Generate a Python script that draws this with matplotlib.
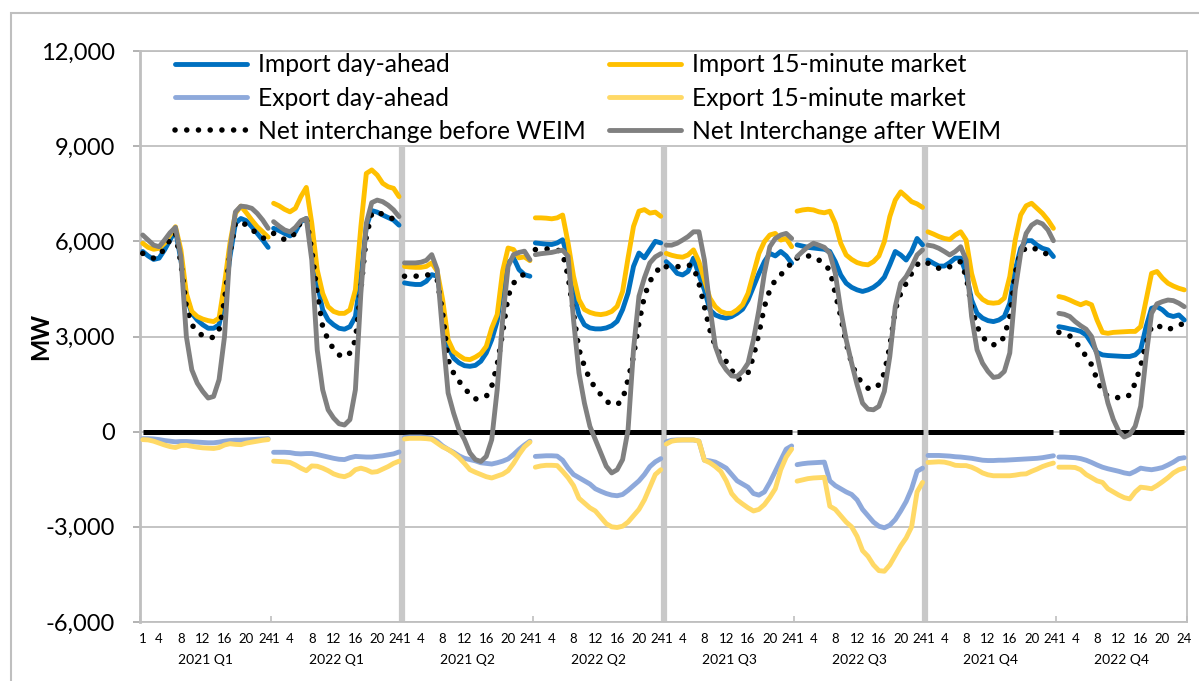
import numpy as np
import matplotlib
matplotlib.use("Agg")
import matplotlib.pyplot as plt
import matplotlib.transforms as mtransforms
from matplotlib.patches import Rectangle
from matplotlib.ticker import FuncFormatter

plt.rcParams["font.family"] = ["Lato", "DejaVu Sans"]

quarters = ["2021 Q1", "2022 Q1", "2021 Q2", "2022 Q2",
            "2021 Q3", "2022 Q3", "2021 Q4", "2022 Q4"]
hour_labels = [1, 4, 8, 12, 16, 20, 24]

# hourly MW, one row of 24 values per quarter
import_da = [
    [5680, 5540, 5430, 5470, 5730, 6040, 6360, 5410, 4260, 3730, 3520, 3370, 3260, 3260, 3370, 4150, 5520, 6570, 6720, 6650, 6460, 6250, 6040, 5810],
    [6410, 6340, 6250, 6170, 6300, 6620, 6720, 6040, 4680, 3840, 3520, 3370, 3260, 3230, 3310, 3630, 4890, 6460, 6970, 6920, 6830, 6750, 6670, 6510],
    [4690, 4660, 4640, 4640, 4740, 4950, 4900, 3950, 2690, 2320, 2170, 2080, 2060, 2090, 2220, 2480, 2900, 3480, 4690, 5320, 5480, 5110, 4950, 4900],
    [5950, 5930, 5910, 5900, 5950, 6050, 5480, 4370, 3690, 3370, 3270, 3240, 3240, 3270, 3340, 3480, 3850, 4370, 5210, 5630, 5480, 5740, 6000, 5950],
    [5360, 5200, 4990, 4940, 5050, 5470, 4940, 4470, 3840, 3680, 3610, 3580, 3630, 3730, 3860, 4150, 4570, 4990, 5360, 5620, 5540, 5680, 5540, 5310],
    [5890, 5850, 5810, 5790, 5770, 5750, 5680, 5360, 4940, 4680, 4550, 4470, 4420, 4470, 4550, 4680, 4870, 5260, 5680, 5570, 5410, 5680, 6090, 5890],
    [5410, 5310, 5220, 5220, 5330, 5470, 5470, 4990, 4150, 3730, 3580, 3500, 3470, 3520, 3630, 4050, 5100, 5780, 6020, 6020, 5880, 5780, 5730, 5520],
    [3310, 3280, 3240, 3210, 3160, 3050, 2790, 2500, 2420, 2400, 2390, 2380, 2370, 2370, 2420, 2580, 3310, 3890, 3940, 3840, 3680, 3630, 3680, 3520],
]
import_15m = [
    [5940, 5810, 5750, 5780, 5940, 6200, 6460, 5730, 4360, 3790, 3630, 3550, 3500, 3470, 3580, 4680, 5940, 6880, 7110, 6900, 6670, 6460, 6300, 6130],
    [7200, 7120, 7010, 6930, 7040, 7410, 7700, 6570, 5100, 4360, 3940, 3790, 3730, 3730, 3840, 4470, 6460, 8140, 8250, 8090, 7830, 7720, 7670, 7410],
    [5210, 5190, 5180, 5180, 5210, 5320, 5060, 4160, 2900, 2530, 2400, 2290, 2270, 2350, 2460, 2690, 3270, 3690, 5060, 5790, 5740, 5480, 5510, 5390],
    [6740, 6740, 6730, 6710, 6740, 6830, 5950, 4900, 4160, 3850, 3760, 3710, 3690, 3720, 3790, 3950, 4420, 5480, 6470, 6950, 7000, 6890, 6920, 6790],
    [5620, 5560, 5520, 5500, 5570, 5730, 5360, 4780, 4210, 3940, 3790, 3730, 3730, 3840, 4000, 4360, 4990, 5620, 5990, 6200, 6250, 6040, 6090, 5830],
    [6950, 6990, 7010, 6990, 6930, 6900, 6950, 6570, 5940, 5570, 5430, 5330, 5280, 5260, 5360, 5540, 5990, 6780, 7300, 7560, 7410, 7250, 7180, 7070],
    [6300, 6230, 6150, 6090, 6060, 6200, 6300, 6040, 4990, 4360, 4170, 4070, 4050, 4070, 4210, 4890, 6040, 6830, 7120, 7200, 7040, 6880, 6670, 6410],
    [4260, 4220, 4150, 4070, 4000, 4070, 4000, 3520, 3130, 3100, 3130, 3140, 3150, 3160, 3160, 3310, 4150, 4990, 5050, 4840, 4680, 4590, 4520, 4470],
]
export_da = [
    [-220, -220, -230, -250, -280, -300, -320, -310, -310, -320, -330, -340, -350, -350, -330, -300, -280, -270, -270, -260, -250, -240, -230, -220],
    [-650, -650, -650, -660, -690, -700, -690, -690, -720, -760, -800, -840, -870, -880, -820, -780, -790, -800, -800, -780, -760, -730, -700, -640],
    [-180, -170, -170, -170, -180, -200, -300, -450, -560, -650, -760, -840, -880, -920, -980, -1000, -1020, -980, -930, -860, -720, -560, -420, -300],
    [-780, -770, -760, -760, -770, -900, -1150, -1350, -1450, -1550, -1650, -1800, -1880, -1950, -2000, -2020, -1980, -1850, -1700, -1550, -1350, -1100, -950, -850],
    [-320, -270, -260, -260, -260, -260, -300, -900, -920, -960, -1050, -1150, -1350, -1550, -1650, -1750, -1950, -2000, -1900, -1600, -1250, -900, -550, -450],
    [-1040, -1010, -990, -980, -970, -960, -1550, -1700, -1800, -1900, -1980, -2150, -2450, -2650, -2850, -2980, -3030, -2950, -2770, -2500, -2200, -1800, -1250, -1150],
    [-750, -750, -750, -760, -770, -790, -800, -820, -840, -870, -900, -910, -910, -900, -900, -890, -880, -870, -860, -850, -840, -820, -790, -760],
    [-800, -800, -810, -820, -850, -900, -970, -1050, -1120, -1170, -1210, -1250, -1300, -1330, -1250, -1150, -1180, -1200, -1170, -1130, -1050, -960, -850, -820],
]
export_15m = [
    [-250, -260, -300, -360, -420, -470, -500, -440, -430, -460, -490, -510, -520, -530, -500, -420, -380, -400, -410, -360, -330, -300, -270, -250],
    [-930, -940, -950, -970, -1050, -1150, -1230, -1080, -1090, -1150, -1230, -1330, -1390, -1420, -1350, -1200, -1150, -1200, -1280, -1260, -1180, -1100, -1000, -930],
    [-230, -210, -210, -210, -220, -240, -360, -480, -560, -680, -820, -1000, -1200, -1280, -1350, -1420, -1460, -1400, -1340, -1230, -1000, -720, -480, -330],
    [-1120, -1080, -1060, -1060, -1070, -1250, -1450, -1700, -2100, -2250, -2400, -2500, -2700, -2900, -3000, -3020, -2980, -2850, -2650, -2450, -2150, -1750, -1350, -1200],
    [-390, -300, -270, -260, -260, -260, -300, -900, -980, -1100, -1250, -1550, -1950, -2150, -2280, -2400, -2500, -2450, -2300, -2070, -1800, -1200, -800, -550],
    [-1560, -1520, -1480, -1460, -1450, -1440, -2350, -2450, -2650, -2850, -3000, -3300, -3750, -3930, -4200, -4380, -4400, -4200, -3900, -3600, -3350, -3000, -1900, -1600],
    [-970, -960, -950, -960, -1000, -1060, -1070, -1070, -1120, -1200, -1300, -1360, -1390, -1390, -1390, -1390, -1370, -1340, -1330, -1250, -1180, -1100, -1040, -990],
    [-1120, -1120, -1120, -1130, -1200, -1350, -1450, -1550, -1600, -1800, -1900, -2000, -2080, -2120, -1900, -1750, -1770, -1800, -1700, -1580, -1450, -1300, -1200, -1150],
]
net_before = [
    [5620, 5520, 5470, 5540, 5780, 6040, 6250, 5310, 3940, 3370, 3160, 3020, 2970, 2970, 3210, 4150, 5620, 6570, 6620, 6510, 6380, 6230, 6130, 5940],
    [6250, 6130, 6060, 6090, 6270, 6620, 6720, 5730, 4360, 3310, 2890, 2600, 2420, 2350, 2480, 2890, 4470, 6150, 6880, 6930, 6850, 6780, 6700, 6620],
    [4900, 4880, 4900, 4920, 4950, 4920, 4790, 3740, 2270, 1850, 1590, 1380, 1170, 1030, 1060, 1110, 1430, 2110, 3110, 4270, 4690, 4790, 5000, 4810],
    [5740, 5740, 5760, 5760, 5740, 5630, 4900, 3740, 2590, 2060, 1640, 1380, 1170, 960, 860, 850, 1010, 1640, 2380, 3430, 4270, 4740, 5000, 5210],
    [5200, 5200, 5200, 5220, 5260, 5200, 4680, 3940, 3210, 2690, 2420, 2210, 1950, 1640, 1690, 1850, 2370, 3100, 3940, 4470, 4780, 4940, 5150, 5310],
    [5470, 5520, 5540, 5520, 5410, 5260, 5100, 4360, 3630, 2790, 2160, 1740, 1530, 1370, 1340, 1480, 1850, 2690, 3840, 4360, 4680, 4990, 5260, 5410],
    [5310, 5220, 5150, 5120, 5200, 5310, 5360, 4890, 3940, 3310, 3000, 2790, 2740, 2760, 3000, 3630, 4990, 5680, 5780, 5830, 5730, 5680, 5570, 5410],
    [3130, 3080, 3020, 2840, 2630, 2370, 2110, 1640, 1270, 1110, 1090, 1070, 1060, 1160, 1530, 2060, 2790, 3310, 3370, 3260, 3210, 3290, 3370, 3400],
]
net_after = [
    [6200, 6040, 5880, 5830, 6040, 6270, 6440, 5520, 3000, 1950, 1530, 1270, 1060, 1110, 1640, 3000, 5730, 6930, 7110, 7090, 7040, 6880, 6670, 6410],
    [6620, 6480, 6360, 6300, 6440, 6650, 6720, 5410, 2580, 1320, 690, 430, 250, 210, 380, 1320, 4360, 6570, 7220, 7300, 7250, 7140, 6990, 6780],
    [5320, 5320, 5320, 5340, 5400, 5580, 5110, 3110, 1220, 590, 60, -250, -670, -880, -940, -780, -250, 1320, 3530, 5210, 5580, 5650, 5690, 5420],
    [5580, 5610, 5630, 5650, 5690, 5720, 5530, 3530, 1850, 900, 170, -250, -670, -1090, -1300, -1200, -880, 60, 2590, 4270, 4850, 5320, 5510, 5610],
    [5880, 5880, 5940, 6040, 6150, 6300, 6300, 5410, 3940, 2690, 2210, 1950, 1760, 1740, 1900, 2160, 2900, 3840, 4990, 5830, 6090, 6200, 6250, 6090],
    [5520, 5680, 5830, 5940, 5880, 5810, 5620, 4990, 3840, 2900, 2160, 1480, 900, 710, 690, 800, 1270, 2370, 3940, 4680, 4890, 5200, 5570, 5730],
    [5880, 5850, 5780, 5680, 5570, 5680, 5830, 5410, 3630, 2580, 2160, 1900, 1710, 1740, 1900, 2480, 4470, 5620, 6250, 6510, 6620, 6550, 6360, 6020],
    [3730, 3700, 3630, 3470, 3340, 3230, 3000, 2420, 1640, 900, 380, 10, -170, -90, 170, 800, 2370, 3730, 4030, 4100, 4150, 4130, 4050, 3940],
]

n_hours = 24
n_groups = len(quarters)

W, H = 1199, 681
fig = plt.figure(figsize=(W / 100, H / 100), dpi=100)
ax = fig.add_axes([140 / W, 1 - 622 / H, (1187 - 140) / W, (622 - 51) / H])

# outer chart border
fig.patches.append(Rectangle((11 / W, -0.05), 1.2, 1.05 - 12.7 / H,
                             transform=fig.transFigure, fill=False,
                             edgecolor="#BFBFBF", lw=1.5))

# quarter separators
for g in (2, 4, 6):
    ax.plot([g * n_hours - 0.5] * 2, [-6000, 9000], color="#C8C8C8", lw=4.5,
            solid_capstyle="butt", zorder=1.5)

# zero line (continuous across the first four blocks)
for a, b in [(0, 4), (4, 5), (5, 6), (6, 7), (7, 8)]:
    xs = np.arange(a * n_hours, b * n_hours)
    ax.plot(xs, np.zeros(len(xs)), color="black", lw=3.6,
            solid_capstyle="butt", zorder=2.5)

styles = [
    (import_da, "Import day-ahead", dict(color="#0070C0")),
    (import_15m, "Import 15-minute market", dict(color="#FFC000")),
    (export_da, "Export day-ahead", dict(color="#8EA9DB")),
    (export_15m, "Export 15-minute market", dict(color="#FFD966")),
    (net_before, "Net interchange before WEIM",
     dict(color="black", lw=4.0, linestyle=(0, (0.01, 2.1)),
          dash_capstyle="round")),
    (net_after, "Net Interchange after WEIM", dict(color="#808080")),
]

handles = {}
for z, (series, label, kw) in enumerate(styles):
    kw = dict(kw)
    kw.setdefault("lw", 3.5)
    kw.setdefault("solid_capstyle", "round")
    for g in range(n_groups):
        xs = np.arange(g * n_hours, (g + 1) * n_hours)
        line, = ax.plot(xs, series[g], zorder=3 + z * 0.1, **kw)
        if g == 0:
            handles[label] = line

order = ["Import day-ahead", "Export day-ahead", "Net interchange before WEIM",
         "Import 15-minute market", "Export 15-minute market",
         "Net Interchange after WEIM"]
leg = ax.legend([handles[k] for k in order], order, ncol=2,
                loc="upper left", bbox_to_anchor=(0.0334, 0.996),
                frameon=False, fontsize=17.7, handlelength=2.93,
                handletextpad=0.45, columnspacing=0.95, labelspacing=0.42,
                borderpad=0.0, borderaxespad=0.0)

ax.set_xlim(-0.5, n_groups * n_hours - 0.5)
ax.set_ylim(-6000, 12000)
ax.set_yticks(np.arange(-6000, 12001, 3000))
ax.yaxis.set_major_formatter(FuncFormatter(lambda v, p: f"{int(v):,}"))
ax.tick_params(axis="y", labelsize=17, length=5, width=1.2, color="#A6A6A6",
               pad=13)

ticks = [g * n_hours + h - 1 for g in range(n_groups) for h in hour_labels]
ax.set_xticks(ticks)
ax.set_xticklabels([str(h) for g in range(n_groups) for h in hour_labels])
ax.tick_params(axis="x", labelsize=9.5, length=0, pad=8)
# "24" and "1" of neighbouring blocks sit side by side, as in "241"
xlabels = ax.get_xticklabels()
left_shift = mtransforms.ScaledTranslation(-2.5 / 100, 0, fig.dpi_scale_trans)
right_shift = mtransforms.ScaledTranslation(2.5 / 100, 0, fig.dpi_scale_trans)
for i, lab in enumerate(xlabels):
    if lab.get_text() == "24" and i != len(xlabels) - 1:
        lab.set_transform(lab.get_transform() + left_shift)
    elif lab.get_text() == "1" and i != 0:
        lab.set_transform(lab.get_transform() + right_shift)
ax.set_xticks([g * n_hours - 0.5 for g in range(n_groups + 1)], minor=True)
ax.tick_params(axis="x", which="minor", length=4, direction="in",
               color="#BFBFBF", width=1.2)

trans = mtransforms.blended_transform_factory(ax.transData, ax.transAxes)
for g, q in enumerate(quarters):
    ax.text(g * n_hours + 11.5, -0.066, q, transform=trans, ha="center",
            va="center", fontsize=10)

ax.set_ylabel("MW", fontsize=17, fontweight="bold")
ax.yaxis.set_label_coords(-(140 - 52) / 1047, 0.5)

ax.yaxis.grid(True, color="#BFBFBF", lw=1.3)
ax.set_axisbelow(True)
for side in ["left", "bottom", "top", "right"]:
    ax.spines[side].set_color("#BFBFBF")
    ax.spines[side].set_linewidth(1.3)
ax.spines["left"].set_linewidth(2)

fig.savefig("out.png", dpi=100)
